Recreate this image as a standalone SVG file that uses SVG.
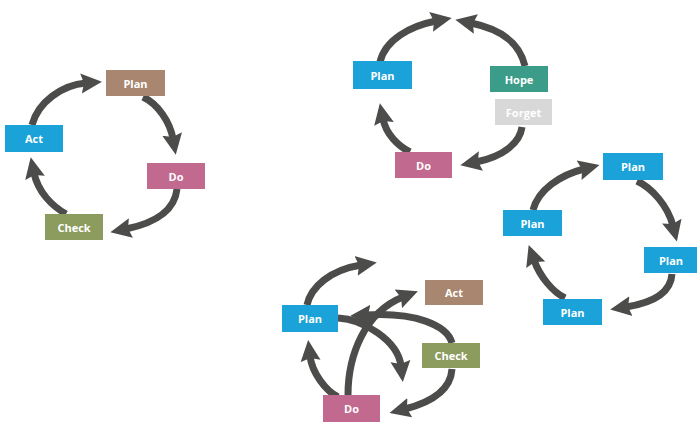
<svg xmlns="http://www.w3.org/2000/svg" width="697" height="423" viewBox="0 0 697 423">
  <defs>
    <marker id="head" viewBox="0 0 21 21" refX="5" refY="10.5" markerWidth="21" markerHeight="21" markerUnits="userSpaceOnUse" orient="auto">
      <path d="M0,0.5 L21,10.5 L0,20.5 L3,10.5 z" fill="#4c4c4a"/>
    </marker>
    <style>
      .arc { fill: none; stroke: #4c4c4a; stroke-width: 7; marker-end: url(#head); }
      .box { stroke: none; }
      .lbl { font-family: "Open Sans", "Liberation Sans", sans-serif; font-size: 11px; font-weight: 700; fill: #ffffff; text-anchor: middle; dominant-baseline: central; }
      .cyan { fill: #1aa2d9; }
      .brown { fill: #a8866f; }
      .pink { fill: #c2698f; }
      .olive { fill: #8c9b5e; }
      .teal { fill: #3b9c89; }
      .grey { fill: #d8d8d8; }
    </style>
  </defs>
  <rect width="697" height="423" fill="#ffffff"/>

  <g id="connectors">
    <!-- cycle 1: Plan / Do / Check / Act -->
    <path class="arc" d="M32,125 C38,102 62,85 86,83"/>
    <path class="arc" d="M143,97 C158,104 170,122 173,139"/>
    <path class="arc" d="M177,189 C175,208 160,222 126,229"/>
    <path class="arc" d="M66,214 C52,206 38,192 34,173"/>
    <!-- cycle 2: Plan / Hope / Forget / Do -->
    <path class="arc" d="M380,62 C385,40 410,26 436,21"/>
    <path class="arc" d="M525,66 C520,45 505,30 471,23"/>
    <path class="arc" d="M522,127 C520,142 505,156 476,162"/>
    <path class="arc" d="M410,152 C398,146 386,134 383,119"/>
    <!-- cycle 3: Plan x4 -->
    <path class="arc" d="M533,210 C538,190 560,175 584,169"/>
    <path class="arc" d="M637,181 C652,188 668,206 673,226"/>
    <path class="arc" d="M672,274 C671,290 658,302 626,307"/>
    <path class="arc" d="M565,298 C553,292 540,277 534,260"/>
    <!-- cycle 4: tangled -->
    <path class="arc" d="M307,305 C311,287 330,270 361,265"/>
    <path class="arc" d="M338,318 C362,319 398,340 401,366"/>
    <path class="arc" d="M452,343 C447,325 415,312 366,315"/>
    <path class="arc" d="M348,395 C348,355 365,312 403,297"/>
    <path class="arc" d="M452,369 C451,385 440,400 405,409"/>
    <path class="arc" d="M338,397 C326,391 312,373 310,356"/>
  </g>

  <!-- cycle 1 -->
  <g id="c1-plan"><rect class="box brown" x="106" y="70" width="59" height="26"/><text class="lbl" x="135.5" y="83">Plan</text></g>
  <g id="c1-act"><rect class="box cyan" x="5" y="125" width="58" height="27"/><text class="lbl" x="34" y="138.5">Act</text></g>
  <g id="c1-do"><rect class="box pink" x="147" y="163" width="58" height="26"/><text class="lbl" x="176" y="176">Do</text></g>
  <g id="c1-check"><rect class="box olive" x="45" y="214" width="58" height="26"/><text class="lbl" x="74" y="227">Check</text></g>

  <!-- cycle 2 -->
  <g id="c2-plan"><rect class="box cyan" x="353" y="61" width="59" height="28"/><text class="lbl" x="382.5" y="75">Plan</text></g>
  <g id="c2-hope"><rect class="box teal" x="490" y="66" width="58" height="26"/><text class="lbl" x="519" y="79">Hope</text></g>
  <g id="c2-forget"><rect class="box grey" x="495" y="99" width="57" height="26"/><text class="lbl" x="523.5" y="112">Forget</text></g>
  <g id="c2-do"><rect class="box pink" x="395" y="152" width="57" height="26"/><text class="lbl" x="423.5" y="165">Do</text></g>

  <!-- cycle 3 -->
  <g id="c3-plan-top"><rect class="box cyan" x="603" y="153" width="60" height="27"/><text class="lbl" x="633" y="166.5">Plan</text></g>
  <g id="c3-plan-left"><rect class="box cyan" x="503" y="210" width="59" height="26"/><text class="lbl" x="532.5" y="223">Plan</text></g>
  <g id="c3-plan-right"><rect class="box cyan" x="644" y="247" width="53" height="26"/><text class="lbl" x="671" y="260">Plan</text></g>
  <g id="c3-plan-bottom"><rect class="box cyan" x="543" y="299" width="59" height="26"/><text class="lbl" x="572.5" y="312">Plan</text></g>

  <!-- cycle 4 -->
  <g id="c4-plan"><rect class="box cyan" x="282" y="305" width="56" height="27"/><text class="lbl" x="310" y="318.5">Plan</text></g>
  <g id="c4-act"><rect class="box brown" x="425" y="280" width="58" height="25"/><text class="lbl" x="454" y="292.5">Act</text></g>
  <g id="c4-check"><rect class="box olive" x="422" y="343" width="58" height="25"/><text class="lbl" x="451" y="355.5">Check</text></g>
  <g id="c4-do"><rect class="box pink" x="323" y="395" width="57" height="27"/><text class="lbl" x="351.5" y="408.5">Do</text></g>
</svg>
